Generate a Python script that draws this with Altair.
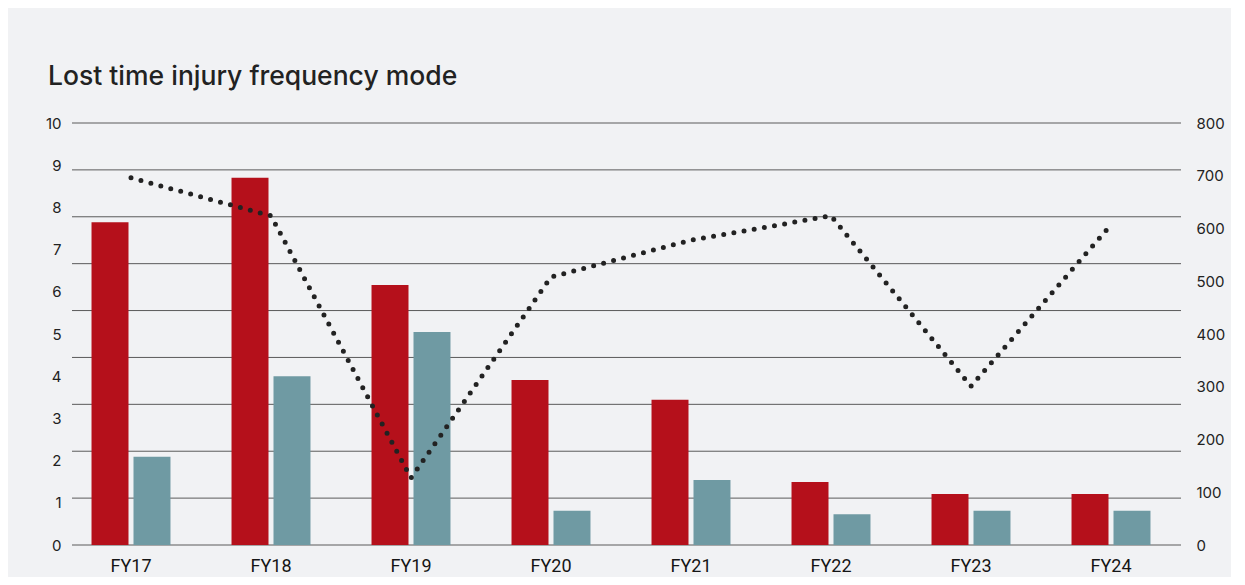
import altair as alt
import pandas as pd

# ---- data ----
years = ["FY17", "FY18", "FY19", "FY20", "FY21", "FY22", "FY23", "FY24"]
series_a = [7.65, 8.70, 6.16, 3.91, 3.44, 1.49, 1.21, 1.21]   # red bars (left axis)
series_b = [2.09, 4.00, 5.05, 0.81, 1.54, 0.73, 0.81, 0.81]   # teal bars (left axis)
line_vals = [696, 624, 127, 508, 578, 624, 301, 607]          # dotted line (right axis)
left_ticks = list(range(0, 11))
right_ticks = list(range(0, 801, 100))
grid_levels = [i * 10 / 9 for i in range(10)]                  # 10 evenly spaced gridlines

RED = "#b5101b"
TEAL = "#6f9aa3"
BG = "#f1f2f4"

bars_df = pd.DataFrame(
    [{"year": y, "series": "A", "value": v} for y, v in zip(years, series_a)]
    + [{"year": y, "series": "B", "value": v} for y, v in zip(years, series_b)]
)
line_df = pd.DataFrame({"year": years, "value": line_vals})
grid_df = pd.DataFrame({"level": grid_levels})

W, H = 1120, 422

x_enc = alt.X(
    "year:N",
    sort=years,
    scale=alt.Scale(paddingInner=0.436, paddingOuter=0.218),
    axis=alt.Axis(
        title=None, labelAngle=0, domain=False, ticks=False, grid=False,
        labelFont="Roboto", labelFontSize=18, labelColor="#151515",
        labelPadding=12, labelBaseline="top",
    ),
)

grid = alt.Chart(grid_df).mark_rule(color="#5a5a5a", strokeWidth=1).encode(
    y=alt.Y("level:Q", scale=alt.Scale(domain=[0, 10], nice=False, zero=False), axis=None),
    x=alt.value(11),
    x2=alt.value(W),
)

bars = alt.Chart(bars_df).mark_bar().encode(
    x=x_enc,
    xOffset=alt.XOffset("series:N", scale=alt.Scale(paddingInner=0.119, paddingOuter=0)),
    y=alt.Y(
        "value:Q",
        scale=alt.Scale(domain=[0, 10], nice=False),
        axis=alt.Axis(
            orient="left", values=left_ticks, title=None, domain=False, ticks=False,
            grid=False, labelFont="Inter", labelFontSize=15, labelColor="#222222",
            labelPadding=0,
        ),
    ),
    color=alt.Color("series:N", scale=alt.Scale(domain=["A", "B"], range=[RED, TEAL]), legend=None),
)

line = alt.Chart(line_df).mark_line(
    color="#222222", strokeWidth=5, strokeDash=[0, 10.3], strokeCap="round"
).encode(
    x=alt.X("year:N", sort=years),
    y=alt.Y(
        "value:Q",
        scale=alt.Scale(domain=[0, 800], nice=False),
        axis=alt.Axis(
            orient="right", values=right_ticks, title=None, domain=False, ticks=False,
            grid=False, labelFont="Inter", labelFontSize=15, labelColor="#222222",
            labelPadding=15, labelAlign="left",
        ),
    ),
)

chart = (
    alt.layer(grid, bars, line)
    .resolve_scale(y="independent")
    .properties(
        width=W,
        height=H,
        title=alt.TitleParams(
            "Lost time injury frequency mode",
            anchor="start", frame="group", font="Inter", fontSize=26.5,
            fontWeight=500, color="#222222", dx=-13, dy=21, offset=26,
            baseline="alphabetic",
        ),
        autosize=alt.AutoSizeParams(type="none"),
        padding={"left": 53, "top": 115, "right": 50, "bottom": 32},
        background=BG,
    )
    .configure_view(stroke=None)
)

chart.save("out.html", embed_options={"renderer": "svg", "actions": False})
